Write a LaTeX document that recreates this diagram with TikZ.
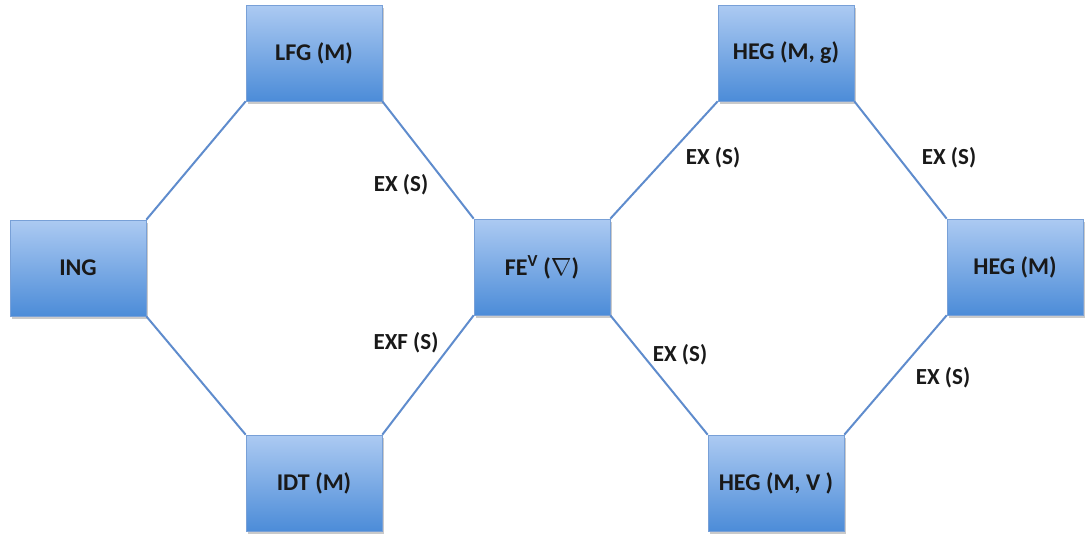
\documentclass[tikz,border=0pt]{standalone}
\usepackage{fontspec}
\setmainfont{Carlito}
\usetikzlibrary{shadows}
\definecolor{boxtop}{RGB}{172,202,242}
\definecolor{boxbot}{RGB}{76,140,216}
\definecolor{boxline}{RGB}{120,160,215}
\definecolor{wire}{RGB}{95,140,205}
\definecolor{txt}{RGB}{25,25,25}
\tikzset{
  stagebox/.style={rectangle, minimum width=136pt, minimum height=96pt, inner sep=0pt,
    top color=boxtop, bottom color=boxbot, draw=boxline, line width=0.6pt,
    font=\fontsize{24}{26}\selectfont\bfseries, text=txt,
    drop shadow={shadow xshift=2pt, shadow yshift=-3pt, opacity=0.35, fill=black!60}},
  wirestyle/.style={draw=wire, line width=2pt},
  edgelab/.style={font=\fontsize{23}{25}\selectfont\bfseries, text=txt, inner sep=0pt}
}
\begin{document}
\begin{tikzpicture}[x=1pt,y=-1pt]
\useasboundingbox (0,0) rectangle (1087,533);
\node[stagebox] (lfg) at (314,53) {LFG (M)};
\node[stagebox] (ing) at (78,268) {ING};
\node[stagebox] (fe) at (542,267) {FE\textsuperscript{V} ($\nabla$)};
\node[stagebox] (idt) at (314,483) {IDT (M)};
\node[stagebox] (hegg) at (786,53) {HEG (M, g)};
\node[stagebox] (hegm) at (1015,267) {HEG (M)};
\node[stagebox] (hegv) at (776,483) {HEG (M, V )};

\draw[wirestyle] (lfg.south west) -- (ing.north east);
\draw[wirestyle] (lfg.south east) -- (fe.north west);
\draw[wirestyle] (ing.south east) -- (idt.north west);
\draw[wirestyle] (idt.north east) -- (fe.south west);
\draw[wirestyle] (fe.north east) -- (hegg.south west);
\draw[wirestyle] (hegg.south east) -- (hegm.north west);
\draw[wirestyle] (fe.south east) -- (hegv.north west);
\draw[wirestyle] (hegv.north east) -- (hegm.south west);

\node[edgelab] (l1) at (401,185) {EX (S)};
\node[edgelab] (l2) at (406,343) {EXF (S)};
\node[edgelab] (l3) at (713,158) {EX (S)};
\node[edgelab] (l4) at (949,158) {EX (S)};
\node[edgelab] (l5) at (680,355) {EX (S)};
\node[edgelab] (l6) at (943,378) {EX (S)};
\end{tikzpicture}
\end{document}
